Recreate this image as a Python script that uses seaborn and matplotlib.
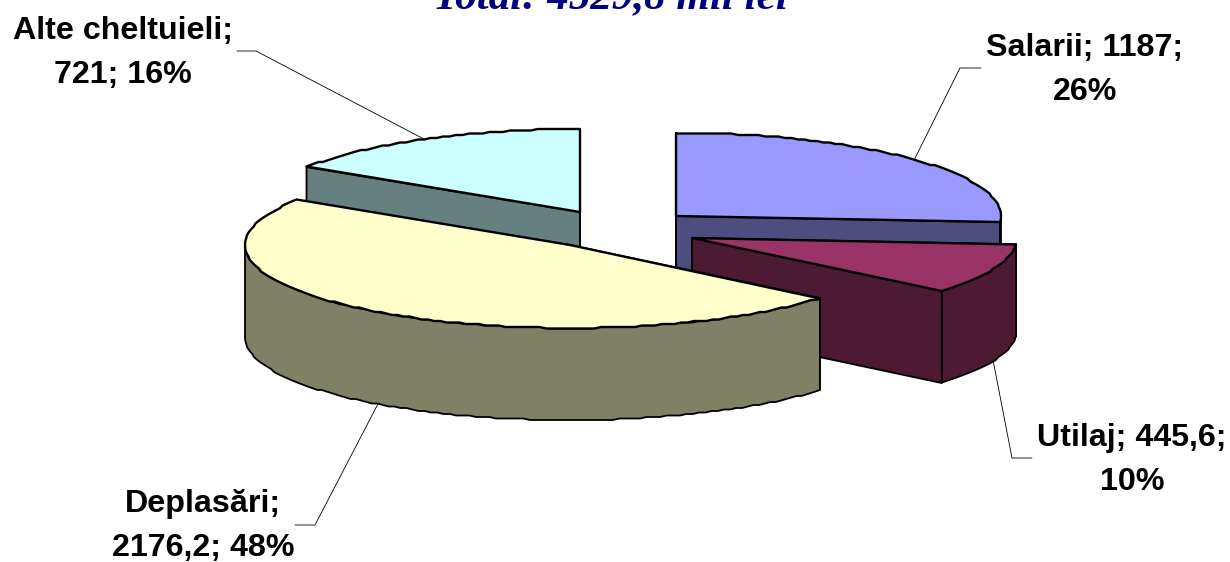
#!/usr/bin/env python3
# exploded 3D pie, Excel style, drawn by hand because matplotlib has no 3D pie
import numpy as np
import matplotlib
matplotlib.use("Agg")
import matplotlib.pyplot as plt
import seaborn as sns

title = "Total: 4529,8 mil lei"
categories = ["Salarii", "Utilaj", "Deplasări", "Alte cheltuieli"]
values = [1187, 445.6, 2176.2, 721]
hex_colors = ["#9999FF", "#993366", "#FFFFCC", "#CCFFFF"]
label_text = [
    "Salarii; 1187;\n26%",
    "Utilaj; 445,6;\n10%",
    "Deplasări;\n2176,2; 48%",
    "Alte cheltuieli;\n721; 16%",
]

sns.set_theme(style="white")
plt.rcParams["font.family"] = ["Liberation Sans", "DejaVu Sans"]
palette = sns.color_palette(hex_colors)

# geometry, in pixels
RX, RY, H = 325, 83, 92
apex = {0: (676, 216), 1: (692, 238), 2: (570, 245), 3: (580, 212)}
label_pos = [(1085, 70), (1132, 460), (203, 526), (123, 53)]
elbows = [[(960, 68), (981, 68)], [(1012, 458), (1032, 458)],
          [(315, 525), (295, 525)], [(256, 51), (237, 51)]]
BLACK = "#000000"


def rim(cx, cy, a0, a1, dz=0):
    n = max(int(abs(a1 - a0) / 1.2), 2)
    a = np.radians(np.linspace(a0, a1, n))
    x = cx + RX * np.sin(a)
    y = cy - RY * np.cos(a) + dz
    return x, np.round(y / 1.5) * 1.5


def face(ax, x, y, c, lw=1.3):
    ax.fill(x, y, facecolor=c, edgecolor=BLACK, lw=lw, joinstyle="round")


fig = plt.figure(figsize=(12.3, 5.62), dpi=100, facecolor="white")
ax = fig.add_axes([0, 0, 1, 1])
ax.set_xlim(0, 1230)
ax.set_ylim(562, 0)
ax.axis("off")

fr = np.array(values) / np.sum(values) * 360
ends = np.cumsum(fr)
starts = ends - fr

# back to front, Deplasari sits over everything else
for i in [3, 0, 1, 2]:
    cx, cy = apex[i]
    s, e = starts[i], ends[i]
    top = palette[i]
    side = tuple(v * 0.5 for v in top)
    for ang in (s, e):
        px = cx + RX * np.sin(np.radians(ang))
        py = cy - RY * np.cos(np.radians(ang))
        face(ax, [cx, px, px, cx], [cy, py, py + H, cy + H], side)
    # front part of the rim
    a0, a1 = max(s, 90), min(e, 270)
    if a1 > a0:
        x, y = rim(cx, cy, a0, a1)
        xb, yb = rim(cx, cy, a0, a1, H)
        face(ax, np.r_[x, xb[::-1]], np.r_[y, yb[::-1]], side)
    x, y = rim(cx, cy, s, e)
    face(ax, np.r_[cx, x], np.r_[cy, y], top, lw=1.7)

# leader lines and labels
for i in range(4):
    cx, cy = apex[i]
    mid = np.radians((starts[i] + ends[i]) / 2)
    ax_, ay_ = cx + RX * np.sin(mid), cy - RY * np.cos(mid)
    if np.cos(mid) < 0:
        ay_ += H
    pts = [(ax_, ay_)] + elbows[i]
    ax.plot([p[0] for p in pts], [p[1] for p in pts], color=BLACK, lw=0.6)
    ax.text(*label_pos[i], label_text[i], ha="center", va="center",
            fontsize=23.2, fontweight="bold", color=BLACK, linespacing=1.65)

ax.text(610, 8, title, ha="center", va="baseline", color="#000080",
        fontsize=31, fontweight="bold", fontstyle="italic",
        family=["Liberation Serif", "DejaVu Serif"])

fig.savefig("out.png", dpi=100, facecolor="white")
